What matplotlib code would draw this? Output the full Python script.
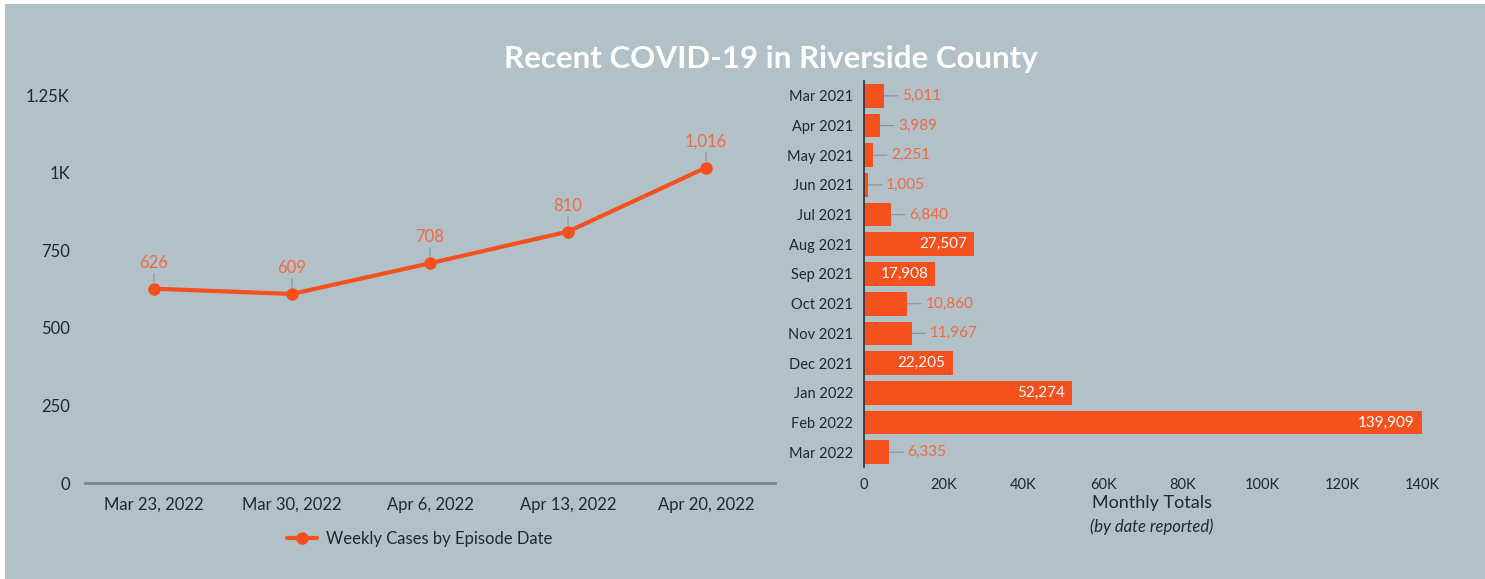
import matplotlib
matplotlib.use("Agg")
from matplotlib import pyplot as plt
from matplotlib.patches import Rectangle
from matplotlib.ticker import FuncFormatter

# weekly cases (left panel)
weeks = ["Mar 23, 2022", "Mar 30, 2022", "Apr 6, 2022", "Apr 13, 2022", "Apr 20, 2022"]
weekly_cases = [626, 609, 708, 810, 1016]

# monthly totals (right panel)
months = ["Mar 2021", "Apr 2021", "May 2021", "Jun 2021", "Jul 2021", "Aug 2021",
          "Sep 2021", "Oct 2021", "Nov 2021", "Dec 2021", "Jan 2022", "Feb 2022",
          "Mar 2022"]
monthly_totals = [5011, 3989, 2251, 1005, 6840, 27507, 17908, 10860, 11967,
                  22205, 52274, 139909, 6335]

BG = "#b2c0c7"
ORANGE = "#f4511e"
LABEL_ORANGE = "#f26a45"
TEXT = "#1f2a30"

plt.rcParams['font.family'] = ['Lato', 'DejaVu Sans']

fig = plt.figure(figsize=(14.85, 5.79), dpi=100)
fig.patch.set_facecolor("white")
W, H = 1485, 579
fig.patches.append(Rectangle((5 / W, 0), 1 - 5 / W, 1 - 4 / H,
                             transform=fig.transFigure, facecolor=BG,
                             edgecolor="none", zorder=-10))

fig.text(771 / W, 1 - 59 / H, "Recent COVID-19 in Riverside County",
         ha="center", va="center", color="white", fontsize=22.5, fontweight="bold")

# ---- left: weekly line ----
ax1 = fig.add_axes([85 / W, 1 - 483 / H, (775 - 85) / W, (483 - 95) / H])
ax1.set_facecolor("none")
xs = list(range(len(weeks)))
ax1.plot(xs, weekly_cases, color=ORANGE, lw=3, marker="o", ms=8,
         label="Weekly Cases by Episode Date", solid_capstyle="round")
for x, v in zip(xs, weekly_cases):
    ax1.annotate(f"{v:,}", xy=(x, v), xytext=(0, 13), textcoords="offset points",
                 ha="center", va="bottom", color=LABEL_ORANGE, fontsize=12,
                 arrowprops=dict(arrowstyle="-", color="#8a949a", lw=0.8,
                                 shrinkA=0, shrinkB=5))
ax1.set_xlim(-0.5, 4.5)
ax1.set_ylim(0, 1250)
ax1.set_yticks([0, 250, 500, 750, 1000, 1250])
ax1.yaxis.set_major_formatter(FuncFormatter(
    lambda v, p: "0" if v == 0 else (f"{v / 1000:g}K" if v >= 1000 else f"{v:g}")))
ax1.set_xticks(xs)
ax1.set_xticklabels(weeks)
for s in ["top", "right", "left"]:
    ax1.spines[s].set_visible(False)
ax1.spines["bottom"].set_color("#7d878c")
ax1.spines["bottom"].set_linewidth(2)
ax1.tick_params(axis="both", length=0, labelsize=12, colors=TEXT)
ax1.tick_params(axis="x", pad=10)
ax1.tick_params(axis="y", pad=11)
ax1.legend(loc="upper center", bbox_to_anchor=(0.485, -0.085), frameon=False,
           fontsize=12, handlelength=1.8, handletextpad=0.5, labelcolor=TEXT)

# ---- right: monthly bars ----
ax2 = fig.add_axes([864 / W, 1 - 467 / H, (1422 - 864) / W, (467 - 81) / H])
ax2.set_facecolor("none")
ys = list(range(len(months)))
ax2.barh(ys, monthly_totals, height=0.8, color=ORANGE)
ax2.set_ylim(len(months) - 0.5, -0.5)
ax2.set_xlim(0, 140000)
ax2.set_yticks(ys)
ax2.set_yticklabels(months)
ax2.set_xticks(range(0, 140001, 20000))
ax2.xaxis.set_major_formatter(FuncFormatter(
    lambda v, p: "0" if v == 0 else f"{v / 1000:g}K"))
for s in ["top", "right", "bottom"]:
    ax2.spines[s].set_visible(False)
ax2.spines["left"].set_color("#2b2f33")
ax2.spines["left"].set_linewidth(1.2)
ax2.tick_params(axis="both", length=0, labelsize=10.5, colors=TEXT)
ax2.tick_params(axis="y", pad=8)
ax2.tick_params(axis="x", pad=8)
for y, v in zip(ys, monthly_totals):
    if v > 15000:
        ax2.annotate(f"{v:,}", xy=(v, y), xytext=(-5, 0), textcoords="offset points",
                     ha="right", va="center", color="white", fontsize=11)
    else:
        ax2.annotate(f"{v:,}", xy=(v, y), xytext=(13, 0), textcoords="offset points",
                     ha="left", va="center", color=LABEL_ORANGE, fontsize=11,
                     arrowprops=dict(arrowstyle="-", color="#8a949a", lw=0.8,
                                     shrinkA=1, shrinkB=0))
fig.text(1152 / W, 1 - 503 / H, "Monthly Totals", ha="center", va="center",
         fontsize=13, color=TEXT)
fig.text(1152 / W, 1 - 527 / H, "(by date reported)", ha="center", va="center",
         fontsize=12, style="italic", color=TEXT)

fig.savefig("out.png", dpi=100, facecolor=fig.get_facecolor())
